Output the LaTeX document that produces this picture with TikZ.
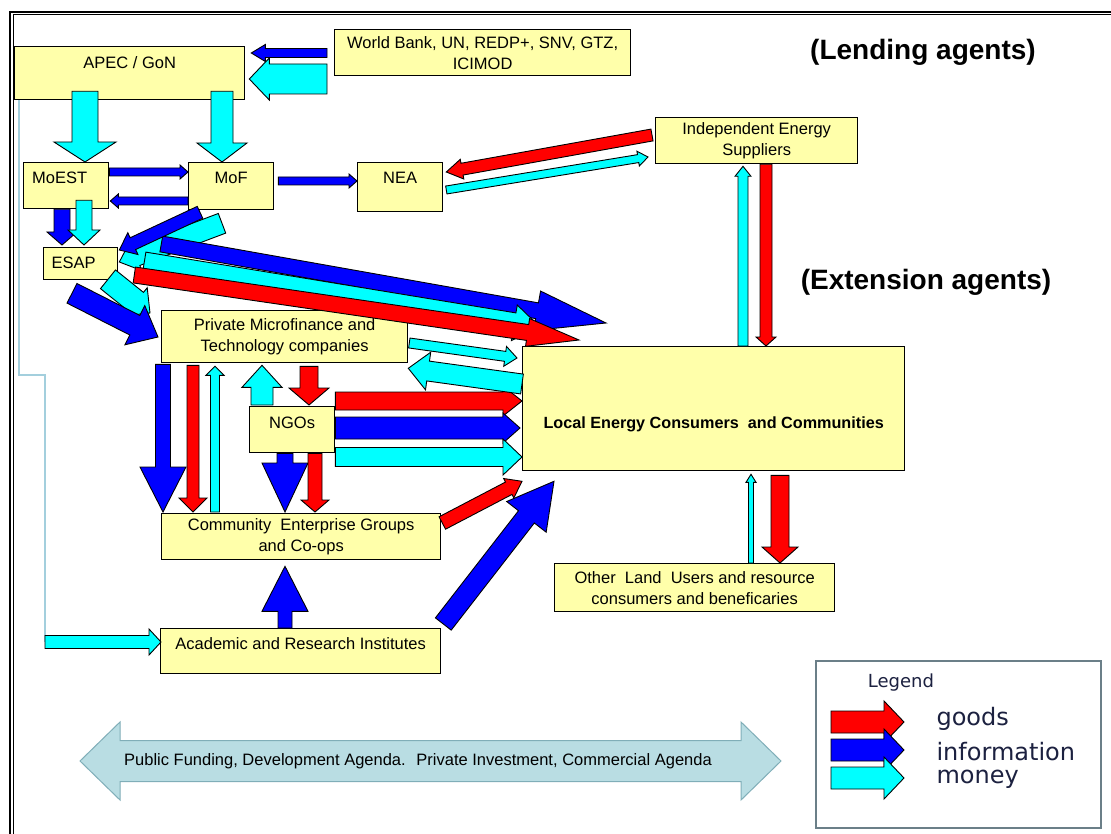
\documentclass[tikz,border=0pt]{standalone}
\usepackage{fontspec}
\setmainfont{Liberation Sans}
\newfontfamily\legendfont{DejaVu Sans}
\usetikzlibrary{calc}
\definecolor{boxfill}{HTML}{FFFFAA}
\definecolor{goodsred}{HTML}{FF0000}
\definecolor{infoblue}{HTML}{0000FF}
\definecolor{moneycyan}{HTML}{00FFFF}
\definecolor{agendafill}{HTML}{B9DDE3}
\definecolor{agendaline}{HTML}{80AEB8}
\definecolor{traceblue}{HTML}{A3CFDD}
\definecolor{legendline}{HTML}{6B7F88}
\definecolor{legendtext}{HTML}{1C2140}
\tikzset{
    agent/.style = {draw, line width=1.3pt, fill=boxfill, anchor=north west, inner sep=0pt, align=center, font=\fontsize{16.5}{21}\selectfont},
    flowline/.style = {draw=black, line width=0.9pt, line join=miter},
    goodsflow/.style = {flowline, fill=goodsred},
    infoflow/.style = {flowline, fill=infoblue},
    moneyflow/.style = {flowline, fill=moneycyan},
    heading/.style = {font=\fontsize{28}{32}\selectfont\bfseries},
    legendentry/.style = {anchor=base west, text=legendtext, font=\legendfont\fontsize{24}{26}\selectfont}
}
% block arrow: style, tail, tip, half shaft, half head, head length
\newcommand{\flow}[6]{%
    \coordinate (fl-a) at (#2);
    \coordinate (fl-b) at (#3);
    \coordinate (fl-c) at ($(fl-b)!#6!(fl-a)$);
    \draw[#1] ($(fl-a)!#4!90:(fl-b)$) -- ($(fl-c)!#4!-90:(fl-a)$)
        -- ($(fl-c)!#5!-90:(fl-a)$) -- (fl-b) -- ($(fl-c)!#5!90:(fl-a)$)
        -- ($(fl-c)!#4!90:(fl-a)$) -- ($(fl-a)!#4!-90:(fl-b)$) -- cycle;
}
\begin{document}
\begin{tikzpicture}[x=1pt, y=-1pt]
    \useasboundingbox (0,0) rectangle (1111,834);
    \clip (0,0) rectangle (1111,834);
    \fill[white] (0,0) rectangle (1111,834);
    \draw[line width=2.5pt] (10,12) rectangle (1130,850);
    \draw[line width=1pt] (13.5,15) rectangle (1126,846);
    % Nodes
    \node[agent, minimum width=230pt, text height=22pt, text depth=31pt] (apec) at (14,46) {APEC / GoN};
    \node[agent, minimum width=296pt, minimum height=46pt] (wb) at (334,29) {World Bank, UN, REDP+, SNV, GTZ,\\ICIMOD};
    \node[agent, text width=68pt, inner xsep=8.5pt, align=left, text height=21pt, text depth=25pt] (moest) at (23,162) {MoEST};
    \node[agent, minimum width=85pt, text height=21pt, text depth=26pt] (mof) at (188,162) {MoF};
    \node[agent, minimum width=85pt, text height=21pt, text depth=28pt] (nea) at (357,162) {NEA};
    \node[agent, text width=58pt, inner xsep=8pt, align=left, text height=21pt, text depth=11pt] (esap) at (43,247) {ESAP};
    \node[agent, minimum width=246pt, minimum height=52pt] (private) at (161,310) {Private Microfinance and\\Technology companies};
    \node[agent, minimum width=85pt, text height=22pt, text depth=24pt] (ngos) at (249,406) {NGOs};
    \node[agent, minimum width=279pt, minimum height=46pt] (community) at (161,513) {Community~ Enterprise Groups\\and Co-ops};
    \node[agent, minimum width=280pt, text height=21pt, text depth=24pt] (academic) at (160,628) {Academic and Research Institutes};
    \node[agent, minimum width=202pt, minimum height=46pt] (ind) at (655,117) {Independent Energy\\Suppliers};
    \node[agent, minimum width=382pt, text height=82pt, text depth=42pt, font=\fontsize{16.2}{21}\selectfont\bfseries] (local) at (522,346) {Local Energy Consumers~ and Communities};
    \node[agent, minimum width=280pt, minimum height=48pt] (other) at (554,563) {Other~ Land~ Users and resource\\consumers and beneficaries};
    \node[heading] (lending) at (923,52) {(Lending agents)};
    \node[heading] (extension) at (926,282) {(Extension agents)};
    \coordinate (acadin) at (45,642);
    \draw[traceblue, line width=1.5pt] ($(apec.south west)+(5,0)$) |- (acadin |- 0,375) -- (acadin);
    % Agenda arrow
    \path[draw=agendaline, fill=agendafill, line width=1pt] (80,761) -- (120,722) -- (120,740.5) -- (741,740.5) -- (741,722) -- (781,761)
        -- (741,800) -- (741,781.5) -- (120,781.5) -- (120,800) -- cycle;
    \node[font=\fontsize{16.5}{20}\selectfont] (agenda) at (418,761) {Public Funding, Development Agenda.~ Private Investment, Commercial Agenda};
    % Flows
    \flow{infoflow}{$(wb.north west)+(-7,24)$}{$(apec.north east)+(6,7)$}{4.5pt}{8.5pt}{14pt}
    \flow{moneyflow}{$(wb.north west)+(-7,50)$}{$(apec.north east)+(4,33)$}{15pt}{21pt}{20pt}
    \flow{moneyflow}{$(apec.south west)+(71,-9)$}{$(moest.north west)+(62,0)$}{13pt}{31pt}{20pt}
    \flow{moneyflow}{$(apec.south west)+(208,-9)$}{$(mof.north west)+(34,0)$}{11pt}{25pt}{19pt}
    \flow{infoflow}{$(moest.north east)+(0,10)$}{$(mof.north west)+(0,10)$}{4pt}{7pt}{8pt}
    \flow{infoflow}{$(mof.north west)+(0,39)$}{$(moest.north east)+(1,39)$}{4pt}{7pt}{8pt}
    \flow{infoflow}{$(mof.north east)+(4,19)$}{$(nea.north west)+(0,19)$}{4pt}{7pt}{8pt}
    \flow{infoflow}{$(moest.south west)+(39,0)$}{$(esap.north west)+(19,-2)$}{8pt}{15pt}{13pt}
    \flow{moneyflow}{$(moest.south west)+(61,-9)$}{$(esap.north west)+(41,-2)$}{8pt}{16pt}{15pt}
    \flow{moneyflow}{$(mof.south west)+(34,13)$}{$(esap.north east)+(1,15)$}{10.5pt}{16pt}{18pt}
    \flow{moneyflow}{$(esap.south west)+(65,-1)$}{$(private.north west)+(-11,3)$}{12pt}{18pt}{18pt}
    \flow{infoflow}{$(esap.south west)+(29,13)$}{$(private.north west)+(-3,27)$}{11pt}{22pt}{26pt}
    \flow{infoflow}{$(esap.north east)+(43,-3)$}{$(local.north west)+(84,-23)$}{8pt}{20pt}{70pt}
    \flow{moneyflow}{$(esap.north east)+(26,15)$}{$(local.north west)+(18,-19)$}{10pt}{18pt}{26pt}
    \flow{goodsflow}{$(esap.north east)+(16,28)$}{$(local.north west)+(57,-6)$}{8pt}{14pt}{52pt}
    \flow{infoflow}{$(mof.south west)+(12,2)$}{$(esap.north east)+(1,3)$}{6.5pt}{12pt}{15pt}
    \flow{infoflow}{$(private.south west)+(2,1)$}{$(community.north west)+(2,-1)$}{7.5pt}{23pt}{45pt}
    \flow{goodsflow}{$(private.south west)+(32,2)$}{$(community.north west)+(32,-1)$}{6pt}{14pt}{14pt}
    \flow{moneyflow}{$(community.north west)+(54,-1)$}{$(private.south west)+(54,3)$}{4.5pt}{9pt}{9pt}
    \flow{moneyflow}{$(ngos.north west)+(13,-1)$}{$(private.south west)+(101,2)$}{11pt}{20pt}{22pt}
    \flow{goodsflow}{$(private.south west)+(148,3)$}{$(ngos.north west)+(60,-1)$}{9pt}{20pt}{17pt}
    \flow{infoflow}{$(ngos.south west)+(36,0)$}{$(community.north west)+(124,-1)$}{8pt}{23pt}{49pt}
    \flow{goodsflow}{$(ngos.south west)+(66,0)$}{$(community.north west)+(154,-1)$}{7pt}{14pt}{12pt}
    \flow{goodsflow}{$(ngos.north east)+(0,-5)$}{$(local.north west)+(0,55)$}{9pt}{15pt}{19pt}
    \flow{infoflow}{$(ngos.north east)+(0,22)$}{$(local.north west)+(-2,82)$}{11pt}{15pt}{17pt}
    \flow{moneyflow}{$(ngos.north east)+(0,51)$}{$(local.north west)+(0,111)$}{9.5pt}{18pt}{19pt}
    \flow{moneyflow}{$(private.north east)+(1,33)$}{$(local.north west)+(-5,12)$}{5pt}{10pt}{12pt}
    \flow{moneyflow}{$(local.north west)+(0,38)$}{$(private.south east)+(0,5)$}{10pt}{19pt}{20pt}
    \flow{goodsflow}{$(community.north east)+(1,10)$}{$(local.south west)+(0,10)$}{7pt}{11pt}{15pt}
    \flow{infoflow}{$(academic.north east)+(2,-4)$}{$(local.south west)+(32,10)$}{10pt}{25pt}{45pt}
    \flow{infoflow}{$(academic.north west)+(125,0)$}{$(community.south west)+(124,6)$}{7pt}{23pt}{45pt}
    \flow{moneyflow}{acadin}{$(academic.north west)+(1,14)$}{6.5pt}{13pt}{12pt}
    \flow{goodsflow}{$(ind.north west)+(-3,18)$}{$(nea.north east)+(3,10)$}{6pt}{10pt}{16pt}
    \flow{moneyflow}{$(nea.north east)+(3,28)$}{$(ind.north west)+(-7,40)$}{4pt}{7.5pt}{10pt}
    \flow{moneyflow}{$(local.north west)+(221,0)$}{$(ind.south west)+(88,2)$}{5pt}{8pt}{10pt}
    \flow{goodsflow}{$(ind.south west)+(111,0)$}{$(local.north west)+(244,0)$}{6pt}{10pt}{9pt}
    \flow{goodsflow}{$(local.south west)+(258,4)$}{$(other.north west)+(226,0)$}{9pt}{18pt}{16pt}
    \flow{moneyflow}{$(other.north west)+(197,0)$}{$(local.south west)+(229,3)$}{2.5pt}{5pt}{8pt}
    % Legend
    \node[draw=legendline, line width=1.5pt, minimum width=285pt, minimum height=167pt, anchor=north west, inner sep=0pt] (legend) at (815,660) {};
    \node[text=legendtext, font=\legendfont\fontsize{18}{20}\selectfont] (legendtitle) at (901,683) {Legend};
    \flow{goodsflow}{$(legend.north west)+(16,62)$}{$(legend.north west)+(89,62)$}{11pt}{21pt}{20pt}
    \flow{infoflow}{$(legend.north west)+(16,90)$}{$(legend.north west)+(89,90)$}{11pt}{21pt}{20pt}
    \flow{moneyflow}{$(legend.north west)+(16,118)$}{$(legend.north west)+(89,118)$}{11pt}{21pt}{20pt}
    \node[legendentry] (goodstext) at (933,725) {goods};
    \node[legendentry] (infotext) at (933,760) {information};
    \node[legendentry] (moneytext) at (933,783) {money};
\end{tikzpicture}
\end{document}
